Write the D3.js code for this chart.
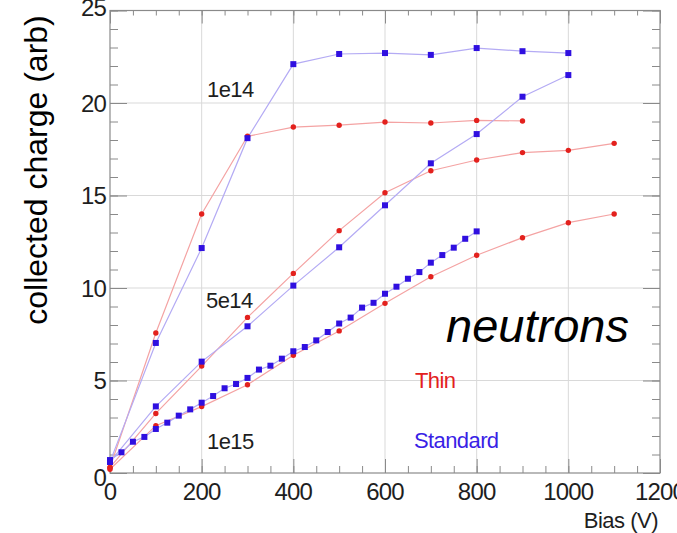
<!DOCTYPE html>
<html lang="en">
<head>
<meta charset="UTF-8">
<title>Collected charge vs bias, neutrons</title>
<script src="https://d3js.org/d3.v7.min.js"></script>
<style>
    body { margin: 0; background: #fff; }
    text { font-family: "Liberation Sans", Arial, sans-serif; }
</style>
</head>
<body>
<svg id="chart" width="677" height="533"></svg>
<script>
    // Bias points (V)
    const bias100 = [0, 100, 200, 300, 400, 500, 600, 700, 800, 900, 1000, 1100];
    const bias25 = [0, 25, 50, 75, 100, 125, 150, 175, 200, 225, 250, 275, 300, 325, 350, 375, 400,
                    425, 450, 475, 500, 525, 550, 575, 600, 625, 650, 675, 700, 725, 750, 775, 800];

    // Thin sensors (red)
    const thin1e14 = [0.3, 7.57, 14.0, 18.2, 18.7, 18.8, 18.97, 18.92, 19.06, 19.03];
    const thin5e14 = [0.3, 3.22, 5.78, 8.41, 10.79, 13.1, 15.15, 16.34, 16.92, 17.32, 17.44, 17.82];
    const thin1e15 = [0.2, 2.56, 3.59, 4.77, 6.36, 7.68, 9.17, 10.61, 11.77, 12.72, 13.53, 14.0];

    // Standard sensors (blue)
    const std1e14 = [0.6, 7.03, 12.16, 18.1, 22.1, 22.65, 22.7, 22.6, 22.97, 22.8, 22.7];
    const std5e14 = [0.6, 3.6, 6.02, 7.93, 10.13, 12.2, 14.47, 16.74, 18.32, 20.34, 21.51];
    const std1e15 = [0.7, 1.12, 1.69, 1.95, 2.38, 2.72, 3.1, 3.44, 3.8, 4.16, 4.58, 4.81, 5.14, 5.59, 5.8,
                     6.18, 6.58, 6.81, 7.17, 7.62, 8.08, 8.4, 8.94, 9.2, 9.69, 10.07, 10.5, 10.86, 11.37,
                     11.78, 12.18, 12.66, 13.06];

    const xTicks = [0, 200, 400, 600, 800, 1000, 1200];
    const yTicks = [0, 5, 10, 15, 20, 25];

    const svg = d3.select("#chart");
    const x = d3.scaleLinear().domain([0, 1200]).range([110, 660]);
    const y = d3.scaleLinear().domain([0, 25]).range([473, 10.5]);

    const RED = "#e3211d", BLUE = "#2f0fe0";

    // grid
    const grid = svg.append("g").attr("stroke", "#d9d9d9").attr("stroke-width", 1);
    xTicks.slice(1, -1).forEach(t => {
        grid.append("line").attr("x1", x(t)).attr("x2", x(t)).attr("y1", y(0)).attr("y2", y(25));
    });
    yTicks.slice(1, -1).forEach(t => {
        grid.append("line").attr("y1", y(t)).attr("y2", y(t)).attr("x1", x(0)).attr("x2", x(1200));
    });

    // frame with ROOT-style inward ticks
    const axisCol = "#8a8a8a";
    svg.append("rect")
        .attr("x", x(0)).attr("y", y(25))
        .attr("width", x(1200) - x(0)).attr("height", y(0) - y(25))
        .attr("fill", "none").attr("stroke", axisCol).attr("stroke-width", 1.2);

    svg.append("g").attr("transform", `translate(0,${y(0)})`)
        .call(d3.axisTop(x).ticks(24).tickSize(7).tickFormat(""))
        .call(g => g.select(".domain").remove());
    svg.append("g").attr("transform", `translate(0,${y(0)})`)
        .call(d3.axisTop(x).tickValues(xTicks).tickSize(14).tickFormat(""))
        .call(g => g.select(".domain").remove());
    svg.append("g").attr("transform", `translate(0,${y(25)})`)
        .call(d3.axisBottom(x).ticks(24).tickSize(5).tickFormat(""))
        .call(g => g.select(".domain").remove());
    svg.append("g").attr("transform", `translate(0,${y(25)})`)
        .call(d3.axisBottom(x).tickValues(xTicks).tickSize(13).tickFormat(""))
        .call(g => g.select(".domain").remove());
    svg.append("g").attr("transform", `translate(${x(0)},0)`)
        .call(d3.axisRight(y).ticks(25).tickSize(8).tickFormat(""))
        .call(g => g.select(".domain").remove());
    svg.append("g").attr("transform", `translate(${x(0)},0)`)
        .call(d3.axisRight(y).tickValues(yTicks).tickSize(17).tickFormat(""))
        .call(g => g.select(".domain").remove());
    svg.append("g").attr("transform", `translate(${x(1200)},0)`)
        .call(d3.axisLeft(y).ticks(25).tickSize(8).tickFormat(""))
        .call(g => g.select(".domain").remove());
    svg.append("g").attr("transform", `translate(${x(1200)},0)`)
        .call(d3.axisLeft(y).tickValues(yTicks).tickSize(17).tickFormat(""))
        .call(g => g.select(".domain").remove());
    svg.selectAll(".tick line").attr("stroke", axisCol);

    // tick labels
    svg.append("g").selectAll("text").data(xTicks).enter().append("text")
        .attr("x", d => x(d)).attr("y", 500)
        .attr("text-anchor", "middle").attr("font-size", 24).attr("letter-spacing", -0.8)
        .attr("fill", "#1e1e1e")
        .text(d => d);
    svg.append("g").selectAll("text").data(yTicks).enter().append("text")
        .attr("x", 106).attr("y", d => y(d) + (d === 0 ? 4 : d === 25 ? -3 : 0)).attr("dy", "0.36em")
        .attr("text-anchor", "end").attr("font-size", 24).attr("letter-spacing", -0.8)
        .attr("fill", "#1e1e1e")
        .text(d => d);

    // axis titles
    svg.append("text").attr("x", 658).attr("y", 528).attr("text-anchor", "end")
        .attr("font-size", 22).attr("letter-spacing", -0.5).attr("fill", "#1e1e1e").text("Bias (V)");
    svg.append("text").attr("transform", "translate(47,170) rotate(-90)")
        .attr("text-anchor", "middle").attr("font-size", 32).attr("fill", "#000")
        .text("collected charge (arb)");

    // series
    const series = [
        { xs: bias100, ys: thin1e14, color: RED, line: "#f4a3a3", shape: "circle" },
        { xs: bias100, ys: thin5e14, color: RED, line: "#f4a3a3", shape: "circle" },
        { xs: bias100, ys: thin1e15, color: RED, line: "#f4a3a3", shape: "circle" },
        { xs: bias100, ys: std1e14, color: BLUE, line: "#b4abf4", shape: "square" },
        { xs: bias100, ys: std5e14, color: BLUE, line: "#b4abf4", shape: "square" },
        { xs: bias25, ys: std1e15, color: BLUE, line: "#b4abf4", shape: "square" }
    ];
    const line = d3.line().x(d => x(d[0])).y(d => y(d[1]));
    series.forEach(s => { s.pts = s.ys.map((v, i) => [s.xs[i], v]); });

    svg.append("g").selectAll("path").data(series).enter().append("path")
        .attr("d", s => line(s.pts)).attr("fill", "none")
        .attr("stroke", s => s.line).attr("stroke-width", 1.2);

    series.forEach(s => {
        const g = svg.append("g").attr("fill", s.color);
        if (s.shape === "circle") {
            g.selectAll("circle").data(s.pts).enter().append("circle")
                .attr("cx", d => x(d[0])).attr("cy", d => y(d[1])).attr("r", 2.7);
        } else {
            g.selectAll("rect").data(s.pts).enter().append("rect")
                .attr("x", d => x(d[0]) - 3).attr("y", d => y(d[1]) - 3)
                .attr("width", 6).attr("height", 6);
        }
    });

    // annotations
    const notes = [
        { t: "1e14", x: 207, y: 97, size: 22, fill: "#1e1e1e", style: "normal" },
        { t: "5e14", x: 206, y: 308, size: 22, fill: "#1e1e1e", style: "normal" },
        { t: "1e15", x: 207, y: 449, size: 22, fill: "#1e1e1e", style: "normal" },
        { t: "neutrons", x: 446, y: 342, size: 47, fill: "#000", style: "italic" },
        { t: "Thin", x: 415, y: 388, size: 22, fill: RED, style: "normal" },
        { t: "Standard", x: 414, y: 448, size: 22, fill: "#3a1fe6", style: "normal" }
    ];
    svg.append("g").selectAll("text").data(notes).enter().append("text")
        .attr("x", d => d.x).attr("y", d => d.y)
        .attr("font-size", d => d.size).attr("font-style", d => d.style)
        .attr("letter-spacing", d => d.style === "italic" ? 0 : -0.6)
        .attr("fill", d => d.fill).text(d => d.t);
</script>
</body>
</html>
